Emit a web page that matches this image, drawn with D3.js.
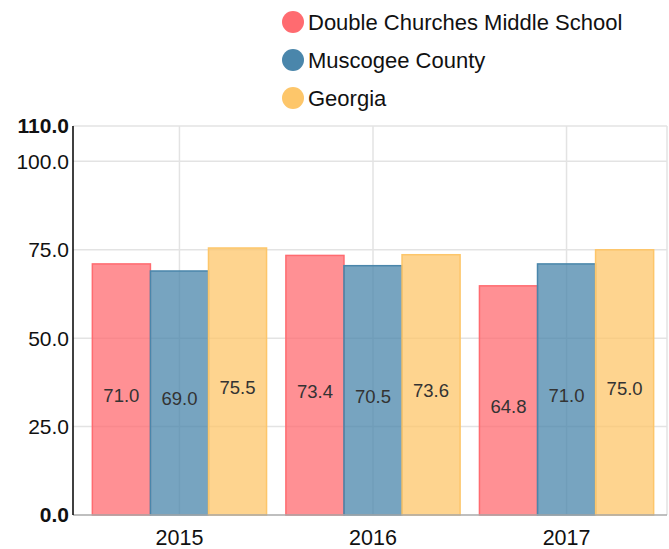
<!DOCTYPE html>
<html>
<head>
<meta charset="utf-8">
<script src="https://cdn.jsdelivr.net/npm/d3@7"></script>
<style>
  body { margin: 0; background: #fff; font-family: "Liberation Sans", Arial, sans-serif; }
</style>
</head>
<body>
<div id="chart"></div>
<script>
// data
const years = ["2015", "2016", "2017"];
const seriesNames = ["Double Churches Middle School", "Muscogee County", "Georgia"];
const schoolVals = [71.0, 73.4, 64.8];
const countyVals = [69.0, 70.5, 71.0];
const stateVals = [75.5, 73.6, 75.0];
const yTicks = [0, 25, 50, 75, 100, 110];

const colors = ["#ff6b70", "#4a86ab", "#fdc66a"];
const allVals = [schoolVals, countyVals, stateVals];

const width = 669, height = 549;
const margin = { top: 126, right: 2, bottom: 34, left: 73 };

const svg = d3.select("#chart").append("svg")
    .attr("width", width)
    .attr("height", height);

// band range runs a little past the right edge, like the original
const x0 = d3.scaleBand()
    .domain(years)
    .range([margin.left, width + 4])
    .paddingInner(0.1)
    .paddingOuter(0.1);

const x1 = d3.scaleBand()
    .domain(d3.range(seriesNames.length))
    .range([0, x0.bandwidth()]);

const y = d3.scaleLinear()
    .domain([0, 110])
    .range([height - margin.bottom, margin.top]);

const right = width - margin.right;

// grid
const grid = svg.append("g").attr("stroke", "#e3e3e3").attr("stroke-width", 1.5);
grid.selectAll("line.h")
    .data(yTicks.filter(d => d > 0))
    .join("line")
    .attr("x1", margin.left).attr("x2", right)
    .attr("y1", d => y(d)).attr("y2", d => y(d));
grid.selectAll("line.v")
    .data(years)
    .join("line")
    .attr("x1", d => x0(d) + x0.bandwidth() / 2).attr("x2", d => x0(d) + x0.bandwidth() / 2)
    .attr("y1", margin.top).attr("y2", y(0));
grid.append("line")
    .attr("x1", right).attr("x2", right)
    .attr("y1", margin.top).attr("y2", y(0));

// bars
const groups = svg.append("g").selectAll("g")
    .data(years)
    .join("g")
    .attr("transform", d => `translate(${x0(d)},0)`);

groups.selectAll("rect")
    .data((d, i) => allVals.map((vals, s) => ({ s, v: vals[i] })))
    .join("rect")
    .attr("x", d => x1(d.s))
    .attr("width", x1.bandwidth())
    .attr("y", d => y(d.v))
    .attr("height", d => y(0) - y(d.v))
    .attr("fill", d => colors[d.s])
    .attr("fill-opacity", 0.75)
    .attr("stroke", d => colors[d.s])
    .attr("stroke-width", 1.5);

groups.selectAll("text")
    .data((d, i) => allVals.map((vals, s) => ({ s, v: vals[i] })))
    .join("text")
    .attr("x", d => x1(d.s) + x1.bandwidth() / 2)
    .attr("y", d => (y(d.v) + y(0)) / 2 + 6)
    .attr("dy", "0.35em")
    .attr("text-anchor", "middle")
    .attr("font-size", 18.5)
    .attr("fill", "#333")
    .text(d => d.v.toFixed(1));

// x axis baseline
svg.append("line")
    .attr("x1", margin.left).attr("x2", right)
    .attr("y1", y(0)).attr("y2", y(0))
    .attr("stroke", "#aaa").attr("stroke-width", 1.5);

svg.append("g").selectAll("text")
    .data(years)
    .join("text")
    .attr("x", d => x0(d) + x0.bandwidth() / 2)
    .attr("y", y(0) + 30)
    .attr("text-anchor", "middle")
    .attr("font-size", 21.5)
    .attr("fill", "#111")
    .text(d => d);

// y axis
svg.append("line")
    .attr("x1", margin.left).attr("x2", margin.left)
    .attr("y1", margin.top).attr("y2", y(0))
    .attr("stroke", "#000").attr("stroke-width", 1.5);

svg.append("g").selectAll("text")
    .data(yTicks)
    .join("text")
    .attr("x", margin.left - 4)
    .attr("y", d => y(d))
    .attr("dy", "0.35em")
    .attr("text-anchor", "end")
    .attr("font-size", 21)
    .attr("font-weight", d => (d === 0 || d === 110) ? "bold" : "normal")
    .attr("fill", "#111")
    .text(d => d.toFixed(1));

// legend
const legend = svg.append("g").selectAll("g")
    .data(seriesNames)
    .join("g")
    .attr("transform", (d, i) => `translate(293,${22 + i * 38})`);
legend.append("circle")
    .attr("r", 11)
    .attr("fill", (d, i) => colors[i]);
legend.append("text")
    .attr("x", 15)
    .attr("dy", "0.35em")
    .attr("font-size", 22)
    .attr("fill", "#111")
    .text(d => d);
</script>
</body>
</html>
